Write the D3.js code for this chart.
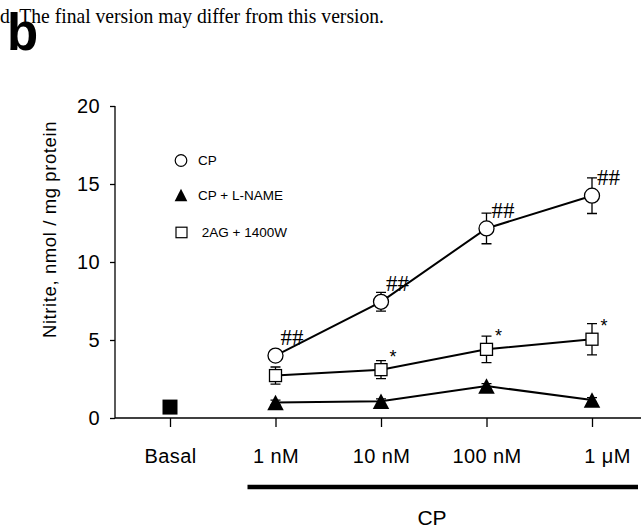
<!DOCTYPE html>
<html>
<head>
<meta charset="utf-8">
<script src="https://cdn.jsdelivr.net/npm/d3@7"></script>
<style>
  body { margin: 0; background: #fff; }
  svg { display: block; }
  text { font-family: Arial, "Liberation Sans", Helvetica, sans-serif; fill: #000; }
</style>
</head>
<body>
<svg id="chart" width="641" height="529"></svg>
<script>
// Categories on the x axis
const categories = ["Basal", "1 nM", "10 nM", "100 nM", "1 \u03bcM"];
const doses = categories.slice(1);

// Basal value (filled square)
const basalValue = 0.7;

// Series: mean and SEM at each CP dose
const cpMean = [4.0, 7.45, 12.15, 14.25];
const cpSem = [0.3, 0.6, 0.98, 1.14];
const lnameMean = [1.0, 1.07, 2.05, 1.15];
const lnameSem = [0.15, 0.15, 0.15, 0.15];
const agMean = [2.72, 3.1, 4.4, 5.05];
const agSem = [0.55, 0.58, 0.85, 1.0];

// Significance marks
const cpMarks = ["##", "##", "##", "##"];
const agMarks = ["", "*", "*", "*"];

const legendNames = ["CP", "CP + L-NAME", " 2AG + 1400W"];
const yTicks = [0, 5, 10, 15, 20];

const svg = d3.select("#chart");

// Header remnants of the page
svg.append("text")
    .attr("x", 0).attr("y", 22.5)
    .attr("textLength", 384)
    .attr("lengthAdjust", "spacingAndGlyphs")
    .style("font-family", "'Liberation Serif', 'Times New Roman', serif")
    .style("font-size", "22px")
    .text("d. The final version may differ from this version.");

svg.append("text")
    .attr("x", 7).attr("y", 50)
    .style("font-size", "51px")
    .style("font-weight", "bold")
    .text("b");

// Scales
const x = d3.scalePoint().domain(categories).range([170, 592]);
const y = d3.scaleLinear().domain([0, 20]).range([418, 106]);

// Axes
const yAxis = svg.append("g")
    .attr("transform", "translate(115,0)")
    .call(d3.axisLeft(y).tickValues(yTicks).tickSize(5).tickPadding(10));

const xAxis = svg.append("g")
    .attr("transform", "translate(0,418)")
    .call(d3.axisBottom(x).tickSize(9).tickPadding(22));

xAxis.select(".domain").attr("d", "M115,0H641");
yAxis.select(".domain").attr("d", "M0,418V106");

[xAxis, yAxis].forEach(g => {
    g.selectAll("path, line").attr("stroke", "#000").attr("stroke-width", 1.3);
    g.selectAll("text")
        .style("font-size", "20px")
        .style("letter-spacing", "0.4px")
        .attr("fill", "#000");
});
// last dose label sits a little to the right in the original
xAxis.selectAll(".tick text").filter(d => d === categories[4]).attr("dx", 15);

// Y axis title
svg.append("text")
    .attr("transform", `translate(56,${(y(0) + y(20)) / 2 - 32.5}) rotate(-90)`)
    .attr("text-anchor", "middle")
    .style("font-size", "18.5px")
    .style("letter-spacing", "0.6px")
    .text("Nitrite, nmol / mg protein");

// CP bar under the doses
svg.append("line")
    .attr("x1", x(doses[0]) - 28).attr("x2", 638)
    .attr("y1", 487).attr("y2", 487)
    .attr("stroke", "#000").attr("stroke-width", 4.5);

svg.append("text")
    .attr("x", 432).attr("y", 525)
    .attr("text-anchor", "middle")
    .style("font-size", "21px")
    .text("CP");

// Build series rows
const makeRows = (means, sems) => doses.map((d, i) => ({ dose: d, v: means[i], e: sems[i] }));
const series = [
    { key: "cp", rows: makeRows(cpMean, cpSem), marks: cpMarks },
    { key: "lname", rows: makeRows(lnameMean, lnameSem), marks: null },
    { key: "ag", rows: makeRows(agMean, agSem), marks: agMarks }
];

const line = d3.line().x(d => x(d.dose)).y(d => y(d.v));
const plot = svg.append("g");

// Connecting lines
plot.selectAll(".series-line")
    .data(series)
    .join("path")
    .attr("class", "series-line")
    .attr("d", s => line(s.rows))
    .attr("fill", "none")
    .attr("stroke", "#000")
    .attr("stroke-width", 2);

// Error bars (behind markers)
const allRows = series.flatMap(s => s.rows.map(r => ({ ...r, key: s.key })));
const capW = 5;
plot.selectAll(".err")
    .data(allRows)
    .join("path")
    .attr("class", "err")
    .attr("d", d => {
        const cx = x(d.dose), t = y(d.v + d.e), b = y(d.v - d.e);
        return `M${cx},${t}V${b}M${cx - capW},${t}H${cx + capW}M${cx - capW},${b}H${cx + capW}`;
    })
    .attr("fill", "none")
    .attr("stroke", "#000")
    .attr("stroke-width", 1.3);

// Markers
const tri = (cx, cy, w, h) => `M${cx},${cy - h / 2}L${cx + w / 2},${cy + h / 2}L${cx - w / 2},${cy + h / 2}Z`;

plot.selectAll(".m-cp")
    .data(series[0].rows)
    .join("circle")
    .attr("cx", d => x(d.dose)).attr("cy", d => y(d.v))
    .attr("r", 7.5)
    .attr("fill", "#fff").attr("stroke", "#000").attr("stroke-width", 1.3);

plot.selectAll(".m-lname")
    .data(series[1].rows)
    .join("path")
    .attr("d", d => tri(x(d.dose), y(d.v), 16.5, 15.5))
    .attr("fill", "#000");

plot.selectAll(".m-ag")
    .data(series[2].rows)
    .join("rect")
    .attr("x", d => x(d.dose) - 6).attr("y", d => y(d.v) - 6)
    .attr("width", 12).attr("height", 12)
    .attr("fill", "#fff").attr("stroke", "#000").attr("stroke-width", 1.3);

// Basal
plot.append("rect")
    .attr("x", x(categories[0]) - 7.5).attr("y", y(basalValue) - 7.5)
    .attr("width", 15).attr("height", 15)
    .attr("fill", "#000");

// Significance marks
plot.selectAll(".hash")
    .data(series[0].rows)
    .join("text")
    .attr("x", d => x(d.dose) + 5)
    .attr("y", d => y(d.v) - 10.5)
    .style("font-family", "'Liberation Serif', 'Times New Roman', serif")
    .style("font-size", "23px")
    .text((d, i) => cpMarks[i]);

plot.selectAll(".star")
    .data(series[2].rows)
    .join("text")
    .attr("x", d => x(d.dose) + 12)
    .attr("y", d => y(d.v) - 7)
    .attr("text-anchor", "middle")
    .style("font-size", "18px")
    .text((d, i) => agMarks[i]);

// Legend
const legend = svg.append("g").attr("transform", "translate(181,0)");
const legY = [160.5, 195, 232.5];

legend.append("circle")
    .attr("cx", 0).attr("cy", legY[0]).attr("r", 5.8)
    .attr("fill", "#fff").attr("stroke", "#000").attr("stroke-width", 1.2);
legend.append("path")
    .attr("d", tri(0, legY[1], 12.7, 12.3))
    .attr("fill", "#000");
legend.append("rect")
    .attr("x", -5).attr("y", legY[2] - 5.3)
    .attr("width", 11).attr("height", 10.5)
    .attr("fill", "#fff").attr("stroke", "#000").attr("stroke-width", 1.2);

legend.selectAll(".leg-text")
    .data(legendNames)
    .join("text")
    .attr("x", 17)
    .attr("y", (d, i) => legY[i] + 4.8)
    .attr("xml:space", "preserve")
    .style("white-space", "pre")
    .style("font-size", "13.5px")
    .text(d => d);
</script>
</body>
</html>
